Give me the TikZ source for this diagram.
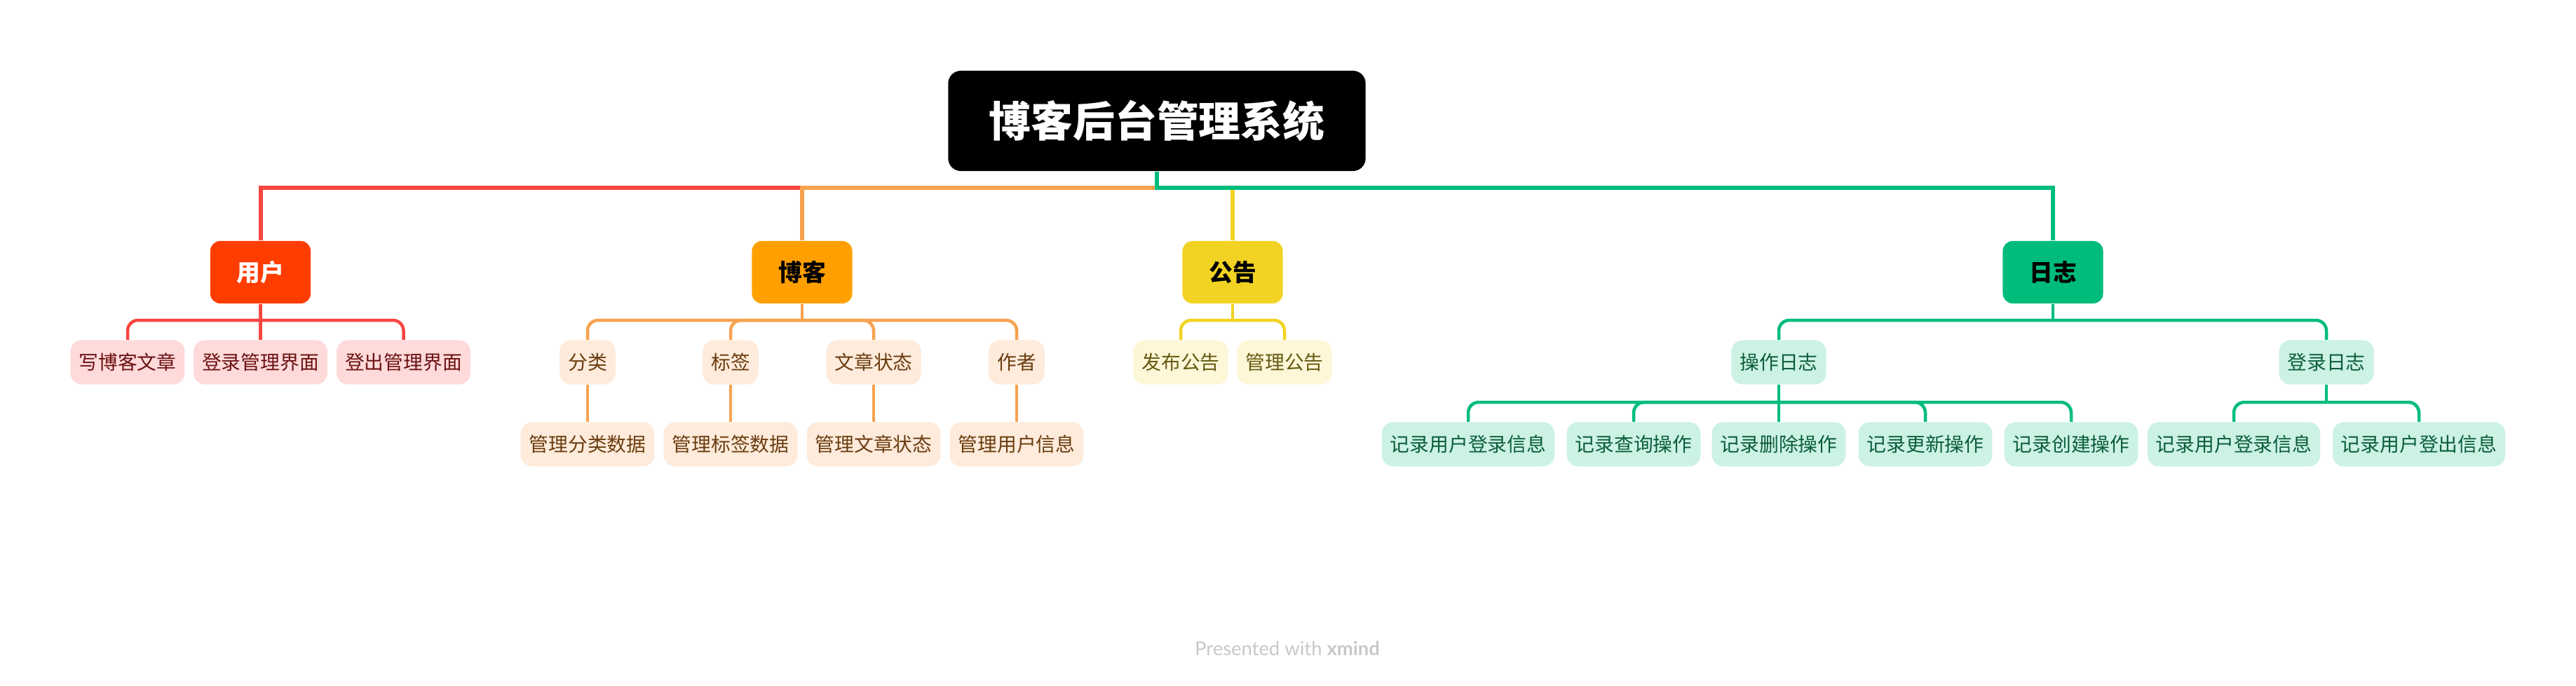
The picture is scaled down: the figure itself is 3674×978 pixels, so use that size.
\documentclass[tikz,border=0pt]{standalone}
\usepackage{fontspec}
\setmainfont{Lato}
\newfontfamily\cjk{Noto Sans CJK SC}
\definecolor{userfill}{HTML}{FF3D00}
\definecolor{userline}{HTML}{F84641}
\definecolor{userlight}{HTML}{FFDADA}
\definecolor{usertext}{HTML}{6B1212}
\definecolor{blogfill}{HTML}{FFA000}
\definecolor{blogline}{HTML}{F7A24F}
\definecolor{bloglight}{HTML}{FEEBDB}
\definecolor{blogtext}{HTML}{6B3D10}
\definecolor{notefill}{HTML}{F2D323}
\definecolor{notelight}{HTML}{FDF6D7}
\definecolor{notetext}{HTML}{665A10}
\definecolor{logfill}{HTML}{00BC7B}
\definecolor{loglight}{HTML}{CCF2E4}
\definecolor{logtext}{HTML}{0B5C3D}
\definecolor{footgray}{HTML}{C8C8C8}
\tikzset{
  rootbox/.style={fill=black,text=white,rounded corners=0.18cm,minimum width=5.95cm,
    minimum height=1.43cm,font=\cjk\bfseries\fontsize{17}{20}\selectfont},
  topic/.style={rounded corners=0.14cm,minimum width=1.43cm,minimum height=0.89cm,
    font=\cjk\bfseries\fontsize{9.6}{12}\selectfont},
  leaf/.style={rounded corners=0.16cm,minimum height=0.63cm,inner xsep=0.12cm,
    font=\cjk\fontsize{7.9}{10}\selectfont},
  mainline/.style={line width=0.06cm},
  subline/.style={line width=0.045cm,rounded corners=0.15cm},
}
\begin{document}
\begin{tikzpicture}[x=0.01cm,y=-0.01cm]
  \useasboundingbox (0,0) rectangle (3674,978);
  \node[rootbox] (root) at (1650,172.5) {博客后台管理系统};
  \coordinate (mbar) at (1650,268);
  % Main topics
  \node[topic,fill=userfill,text=white] (user) at (371.5,388.5) {用户};
  \node[topic,fill=blogfill] (blog) at (1144,388.5) {博客};
  \node[topic,fill=notefill] (note) at (1758,388.5) {公告};
  \node[topic,fill=logfill]  (log)  at (2928,388.5) {日志};
  \draw[mainline,userline] (root.south) -- (mbar) -| (user.north);
  \draw[mainline,blogline] (root.south) -- (mbar) -| (blog.north);
  \draw[mainline,notefill] (mbar) -| (note.north);
  \draw[mainline,logfill]  (root.south) -- (mbar) -| (log.north);
  % User branch
  \node[leaf,fill=userlight,text=usertext] (u1) at (182,517)   {写博客文章};
  \node[leaf,fill=userlight,text=usertext] (u2) at (371.5,517) {登录管理界面};
  \node[leaf,fill=userlight,text=usertext] (u3) at (575.5,517) {登出管理界面};
  \coordinate (ubar) at (371.5,457);
  \draw[subline,userline] (user.south) -- (u2.north);
  \draw[subline,userline] (ubar) -| (u1.north);
  \draw[subline,userline] (ubar) -| (u3.north);
  % Blog branch
  \node[leaf,fill=bloglight,text=blogtext] (b1) at (838,517)  {分类};
  \node[leaf,fill=bloglight,text=blogtext] (b2) at (1042,517) {标签};
  \node[leaf,fill=bloglight,text=blogtext] (b3) at (1246,517) {文章状态};
  \node[leaf,fill=bloglight,text=blogtext] (b4) at (1450,517) {作者};
  \node[leaf,fill=bloglight,text=blogtext] (b11) at (838,634)  {管理分类数据};
  \node[leaf,fill=bloglight,text=blogtext] (b21) at (1042,634) {管理标签数据};
  \node[leaf,fill=bloglight,text=blogtext] (b31) at (1246,634) {管理文章状态};
  \node[leaf,fill=bloglight,text=blogtext] (b41) at (1450,634) {管理用户信息};
  \coordinate (bbar) at (1144,457);
  \draw[subline,blogline] (blog.south) -- (bbar);
  \foreach \k in {b1,b2} \draw[subline,blogline] (bbar) -| (\k.north);
  \foreach \k in {b3,b4} \draw[subline,blogline] (bbar) -| (\k.north);
  \foreach \k in {b1,b2,b3,b4} \draw[subline,blogline] (\k.south) -- (\k1.north);
  % Notice branch
  \node[leaf,fill=notelight,text=notetext] (g1) at (1684,517) {发布公告};
  \node[leaf,fill=notelight,text=notetext] (g2) at (1832,517) {管理公告};
  \coordinate (gbar) at (1758,457);
  \draw[subline,notefill] (note.south) -- (gbar);
  \draw[subline,notefill] (gbar) -| (g1.north);
  \draw[subline,notefill] (gbar) -| (g2.north);
  % Log branch
  \node[leaf,fill=loglight,text=logtext] (r1) at (2537,517) {操作日志};
  \node[leaf,fill=loglight,text=logtext] (r2) at (3318,517) {登录日志};
  \coordinate (rbar) at (2928,457);
  \draw[subline,logfill] (log.south) -- (rbar);
  \draw[subline,logfill] (rbar) -| (r1.north);
  \draw[subline,logfill] (rbar) -| (r2.north);
  \node[leaf,fill=loglight,text=logtext] (r11) at (2094,634) {记录用户登录信息};
  \node[leaf,fill=loglight,text=logtext] (r12) at (2330,634) {记录查询操作};
  \node[leaf,fill=loglight,text=logtext] (r13) at (2537,634) {记录删除操作};
  \node[leaf,fill=loglight,text=logtext] (r14) at (2746,634) {记录更新操作};
  \node[leaf,fill=loglight,text=logtext] (r15) at (2954,634) {记录创建操作};
  \coordinate (r1bar) at (2537,574);
  \draw[subline,logfill] (r1.south) -- (r13.north);
  \foreach \k in {r11,r12,r14,r15} \draw[subline,logfill] (r1bar) -| (\k.north);
  \node[leaf,fill=loglight,text=logtext] (r21) at (3186,634) {记录用户登录信息};
  \node[leaf,fill=loglight,text=logtext] (r22) at (3450,634) {记录用户登出信息};
  \coordinate (r2bar) at (3318,574);
  \draw[subline,logfill] (r2.south) -- (r2bar);
  \draw[subline,logfill] (r2bar) -| (r21.north);
  \draw[subline,logfill] (r2bar) -| (r22.north);
  % Footer
  \node[text=footgray,font=\fontsize{7.8}{9}\selectfont] (foot) at (1836,925)
    {Presented with \textbf{xmind}};
\end{tikzpicture}
\end{document}
